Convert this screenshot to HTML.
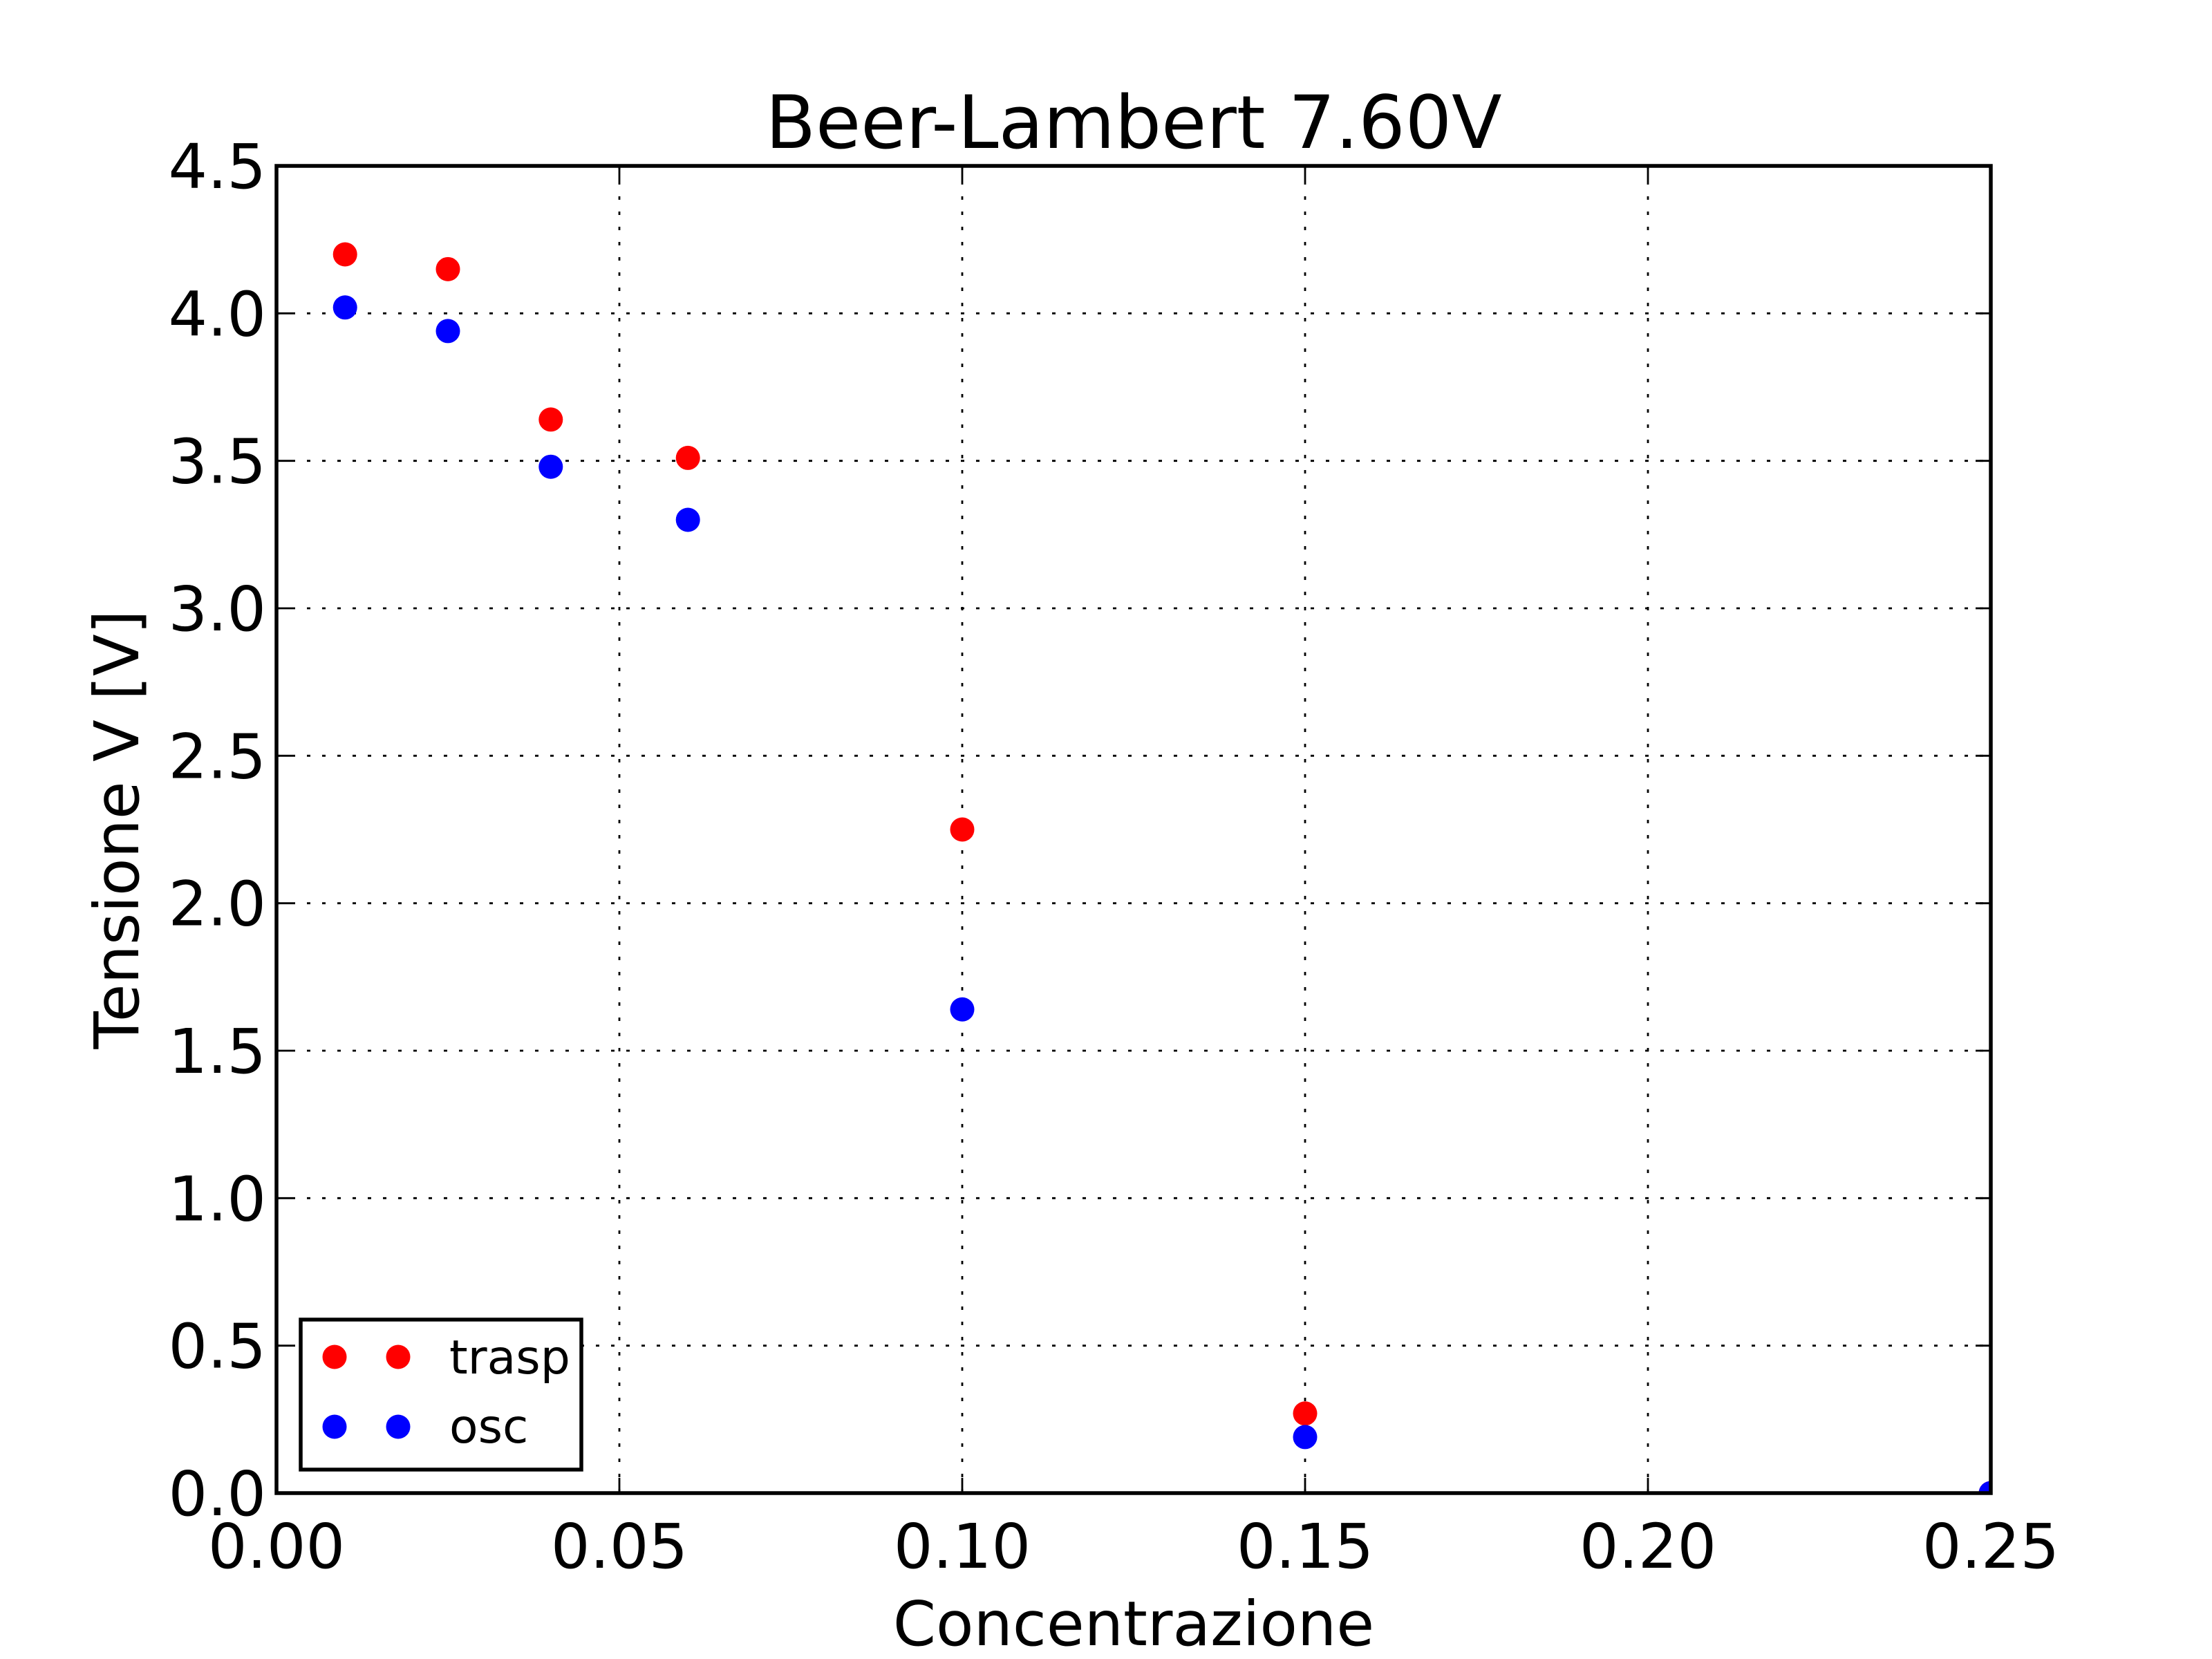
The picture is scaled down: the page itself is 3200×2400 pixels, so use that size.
<!DOCTYPE html>
<html><head><meta charset="utf-8"><style>
html,body{margin:0;padding:0;background:#fff}
svg{display:block;font-family:"DejaVu Sans","Liberation Sans",sans-serif}
</style></head><body>
<svg id="chart" width="3200" height="2400" viewBox="0 0 3200 2400" xmlns="http://www.w3.org/2000/svg">
<defs><clipPath id="plotclip"><rect x="400" y="240" width="2480" height="1920"/></clipPath></defs>
<rect width="3200" height="2400" fill="#fff"/>
<g id="grid"></g>
<g id="ticks"></g>
<g id="marks" clip-path="url(#plotclip)"></g>
<rect x="400" y="240" width="2480" height="1920" fill="none" stroke="#000" stroke-width="5.5"/>
<text x="1640" y="214" font-size="106" text-anchor="middle">Beer-Lambert 7.60V</text>
<text x="1640" y="2380" font-size="89" text-anchor="middle">Concentrazione</text>
<text x="0" y="0" font-size="89" text-anchor="middle" transform="translate(200,1200) rotate(-90)">Tensione V [V]</text>
<g>
<rect x="435" y="1909" width="406" height="217" fill="#fff" stroke="#000" stroke-width="5.5"/>
<circle cx="484" cy="1963" r="17.5" fill="#f00"/>
<circle cx="576" cy="1963" r="17.5" fill="#f00"/>
<text x="650" y="1987" font-size="68">trasp</text>
<circle cx="484" cy="2064" r="17.5" fill="#00f"/>
<circle cx="576" cy="2064" r="17.5" fill="#00f"/>
<text x="650" y="2087" font-size="68">osc</text>
</g>
</svg>
<script>
const concentrations = [0.01, 0.025, 0.04, 0.06, 0.10, 0.15, 0.25];
const traspValues = [4.20, 4.15, 3.64, 3.51, 2.25, 0.27, 0.0];
const oscValues = [4.02, 3.94, 3.48, 3.30, 1.64, 0.19, 0.0];
const xTicks = [0, 0.05, 0.10, 0.15, 0.20, 0.25];
const xTickLabels = ["0.00", "0.05", "0.10", "0.15", "0.20", "0.25"];
const yTicks = [0, 0.5, 1.0, 1.5, 2.0, 2.5, 3.0, 3.5, 4.0, 4.5];
const yTickLabels = ["0.0", "0.5", "1.0", "1.5", "2.0", "2.5", "3.0", "3.5", "4.0", "4.5"];

const NS = "http://www.w3.org/2000/svg";
const X0 = 400, X1 = 2880, Y0 = 2160, Y1 = 240;
function xs(v){ return X0 + (v - 0) / 0.25 * (X1 - X0); }
function ys(v){ return Y0 - (v - 0) / 4.5 * (Y0 - Y1); }
function mk(tag, attrs, parent){
  const e = document.createElementNS(NS, tag);
  for (const k in attrs) e.setAttribute(k, attrs[k]);
  parent.appendChild(e);
  return e;
}
const grid = document.getElementById('grid');
const ticks = document.getElementById('ticks');
const marks = document.getElementById('marks');

xTicks.forEach((t, i) => {
  const x = xs(t);
  const g = mk('line', {x1:x, x2:x, y1:Y1, y2:Y0, stroke:'#000', 'stroke-width':2.8, 'stroke-dasharray':'5,17'}, grid);
  
  
  const a = mk('line', {x1:x, x2:x, y1:Y0, y2:Y0-22, stroke:'#000', 'stroke-width':2.8}, ticks);
  
  
  const b = mk('line', {x1:x, x2:x, y1:Y1, y2:Y1+22, stroke:'#000', 'stroke-width':2.8}, ticks);
  
  
  const tx = mk('text', {x:x, y:2268, 'font-size':89, 'text-anchor':'middle'}, ticks);
  tx.textContent = xTickLabels[i];
  
  
});
yTicks.forEach((t, i) => {
  const y = ys(t);
  const g = mk('line', {x1:X0, x2:X1, y1:y, y2:y, stroke:'#000', 'stroke-width':2.8, 'stroke-dasharray':'5,17'}, grid);
  
  
  const a = mk('line', {x1:X0, x2:X0+22, y1:y, y2:y, stroke:'#000', 'stroke-width':2.8}, ticks);
  
  
  const b = mk('line', {x1:X1, x2:X1-22, y1:y, y2:y, stroke:'#000', 'stroke-width':2.8}, ticks);
  
  
  const tx = mk('text', {x:385, y:y+32, 'font-size':89, 'text-anchor':'end'}, ticks);
  tx.textContent = yTickLabels[i];
  
  
});
concentrations.forEach((c, i) => {
  const p = mk('circle', {cx:xs(c), cy:ys(traspValues[i]), r:17.5, fill:'#f00'}, marks);
  
  
});
concentrations.forEach((c, i) => {
  const p = mk('circle', {cx:xs(c), cy:ys(oscValues[i]), r:17.5, fill:'#00f'}, marks);
  
  
});
</script>
</body></html>
